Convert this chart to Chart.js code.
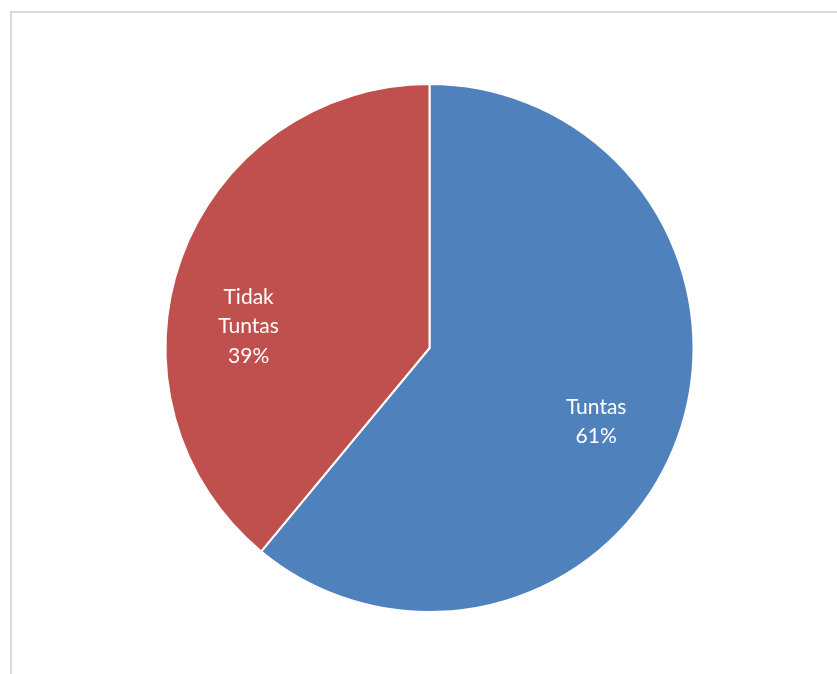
<!DOCTYPE html>
<html>
<head>
<meta charset="utf-8">
<script src="https://cdn.jsdelivr.net/npm/chart.js@4/dist/chart.umd.min.js"></script>
<style>
  body { margin: 0; background: #fff; }
  #wrap { position: relative; width: 837px; height: 674px; overflow: hidden; }
  #frame { position: absolute; left: 10px; top: 11px; width: 900px; height: 700px;
           border-left: 2px solid #d9d9d9; border-top: 2px solid #d9d9d9; }
  canvas { position: absolute; left: 0; top: 0; }
</style>
</head>
<body>
<div id="wrap">
  <div id="frame"></div>
  <canvas id="miChart" width="837" height="674"></canvas>
</div>
<script>
// Datos del gráfico
const categorias = ["Tuntas", "Tidak Tuntas"];
const etiquetas = [["Tuntas"], ["Tidak", "Tuntas"]];
const valores = [61, 39];
const colores = ["#4F81BD", "#C0504D"];

// Etiquetas dentro de cada sector
const etiquetasPlugin = {
    id: "etiquetas",
    afterDatasetsDraw(chart, args, opts) {
        const ctx = chart.ctx;
        const total = valores.reduce((a, b) => a + b, 0);
        chart.getDatasetMeta(0).data.forEach((arc, i) => {
            const p = arc.getProps(["x", "y", "startAngle", "endAngle", "outerRadius"], true);
            const ang = (p.startAngle + p.endAngle) / 2 + opts.shift[i] * Math.PI / 180;
            const r = p.outerRadius * opts.dist;
            const cx = p.x + Math.cos(ang) * r;
            const cy = p.y + Math.sin(ang) * r;
            const lineas = [...etiquetas[i], Math.round(valores[i] / total * 100) + "%"];
            ctx.save();
            ctx.fillStyle = "#fff";
            ctx.font = "21px Lato";
            ctx.textAlign = "center";
            ctx.textBaseline = "middle";
            const h = 29.5;
            lineas.forEach((t, k) => {
                ctx.fillText(t, cx, cy + (k - (lineas.length - 1) / 2) * h);
            });
            ctx.restore();
        });
    }
};

new Chart(document.querySelector("#miChart"), {
    type: "pie",
    data: {
        labels: categorias,
        datasets: [{ data: valores, backgroundColor: colores, borderColor: "#fff", borderWidth: 2 }]
    },
    options: {
        responsive: false,
        animation: false,
        layout: { padding: { top: 83, bottom: 61, left: 22, right: 0 } },
        plugins: {
            legend: { display: false },
            tooltip: { enabled: false },
            etiquetas: { dist: 0.69, shift: [4, -13] }
        }
    },
    plugins: [etiquetasPlugin]
});
</script>
</body>
</html>
